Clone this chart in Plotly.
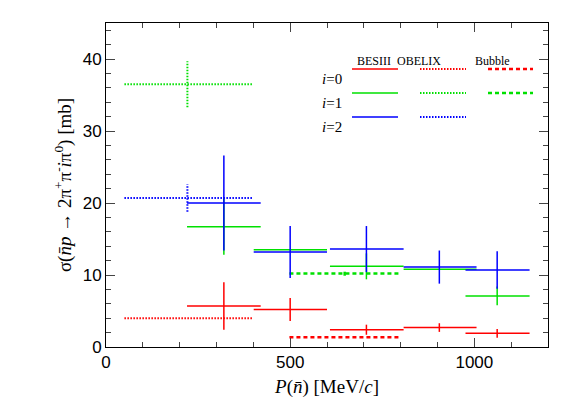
import plotly.graph_objects as go

# BESIII bins (MeV/c) and cross sections (mb)
bes_lo = [220, 401, 608, 808, 976]
bes_hi = [420, 600, 808, 1006, 1150]
bes_p = [320, 500, 707, 905, 1062]
bes_i0 = [5.7, 5.2, 2.4, 2.7, 1.9]
bes_i0_err = [3.3, 1.6, 0.7, 0.6, 0.6]
bes_i1 = [16.7, 13.5, 11.2, 10.8, 7.1]
bes_i1_err = [3.9, 0.0, 1.8, 0.0, 1.3]
bes_i2 = [20.0, 13.2, 13.6, 11.1, 10.7]
bes_i2_err = [6.6, 3.6, 3.2, 2.3, 2.6]

# OBELIX
obx_lo, obx_hi, obx_p = [50], [400], [221]
obx_i0, obx_i0_err = [4.0], [0.0]
obx_i1, obx_i1_err = [36.5], [3.2]
obx_i2, obx_i2_err = [20.7], [1.9]

# Bubble chamber
bub_lo, bub_hi, bub_p = [498], [800], [648]
bub_i0, bub_i0_err = [1.35], [0.0]
bub_i1, bub_i1_err = [10.2], [0.3]

RED, GREEN, BLUE = "#ff0000", "#00e000", "#0000ff"
DOT, DASH = "1.5px,1.5px", "4px,3px"
fig = go.Figure()


def crosses(lo, hi, p, y, err, color, dash, width):
    xs, ys = [], []
    for a, b, c, v, e in zip(lo, hi, p, y, err):
        xs += [a, b, None]
        ys += [v, v, None]
        if e > 0:
            xs += [c, c, None]
            ys += [v - e, v + e, None]
    fig.add_trace(go.Scatter(x=xs, y=ys, mode="lines", showlegend=False,
                             line=dict(color=color, dash=dash, width=width)))


crosses(obx_lo, obx_hi, obx_p, obx_i0, obx_i0_err, RED, DOT, 2)
crosses(obx_lo, obx_hi, obx_p, obx_i1, obx_i1_err, GREEN, DOT, 2)
crosses(obx_lo, obx_hi, obx_p, obx_i2, obx_i2_err, BLUE, DOT, 2)
crosses(bub_lo, bub_hi, bub_p, bub_i0, bub_i0_err, RED, DASH, 2.5)
crosses(bub_lo, bub_hi, bub_p, bub_i1, bub_i1_err, GREEN, DASH, 2.5)
crosses(bes_lo, bes_hi, bes_p, bes_i0, bes_i0_err, RED, "solid", 1.5)
crosses(bes_lo, bes_hi, bes_p, bes_i1, bes_i1_err, GREEN, "solid", 1.5)
crosses(bes_lo, bes_hi, bes_p, bes_i2, bes_i2_err, BLUE, "solid", 1.5)

# hand-drawn legend
L, W, B, H = 98, 442, 339, 324
px = lambda v: (v - L) / W
py = lambda v: (B - v) / H
font = dict(family="Liberation Serif", size=12, color="black")
for txt, x in [("BESIII", 366), ("OBELIX", 435), ("Bubble", 504)]:
    fig.add_annotation(x=px(x), y=py(44), xref="paper", yref="paper", text=txt,
                       showarrow=False, font=font)
rows = [("<i>i</i>=0", 61, RED, [True, True, True]),
        ("<i>i</i>=1", 85, GREEN, [True, True, True]),
        ("<i>i</i>=2", 109, BLUE, [True, True, False])]
cols = [(344, 390, "solid", 1.5), (412, 458, DOT, 2), (480, 525, DASH, 2.5)]
for txt, y, c, show in rows:
    fig.add_annotation(x=px(336), y=py(y), xref="paper", yref="paper", text=txt,
                       showarrow=False, xanchor="right",
                       font=dict(family="Liberation Serif", size=15, color="black"))
    for (x0, x1, d, w), s in zip(cols, show):
        if s:
            fig.add_shape(type="line", xref="paper", yref="paper", x0=px(x0), x1=px(x1),
                          y0=py(y), y1=py(y), line=dict(color=c, dash=d, width=w))

axis = dict(showline=True, linecolor="black", linewidth=1, mirror="ticks", ticks="inside",
            ticklen=9, showgrid=False, zeroline=False,
            tickfont=dict(family="Liberation Sans", size=17, color="black"),
            minor=dict(ticks="inside", ticklen=5))
fig.update_xaxes(range=[0, 1200], dtick=500, minor_dtick=100,
                 title=dict(text="<i>P</i>(<i>n̄</i>) [MeV/<i>c</i>]", standoff=8,
                            font=dict(family="Liberation Serif", size=19, color="black")), **axis)
fig.update_yaxes(range=[0, 45], dtick=10, minor_dtick=2,
                 title=dict(text="σ(<i>n̄p</i> → 2π<sup>+</sup>π<sup>-</sup><i>i</i>π<sup>0</sup>) [mb]",
                            standoff=6, font=dict(family="Liberation Serif", size=19, color="black")),
                 **axis)
fig.update_layout(width=567, height=407, plot_bgcolor="white", paper_bgcolor="white",
                  margin=dict(l=98, r=27, t=15, b=68), showlegend=False)
fig.write_html("out.html")
